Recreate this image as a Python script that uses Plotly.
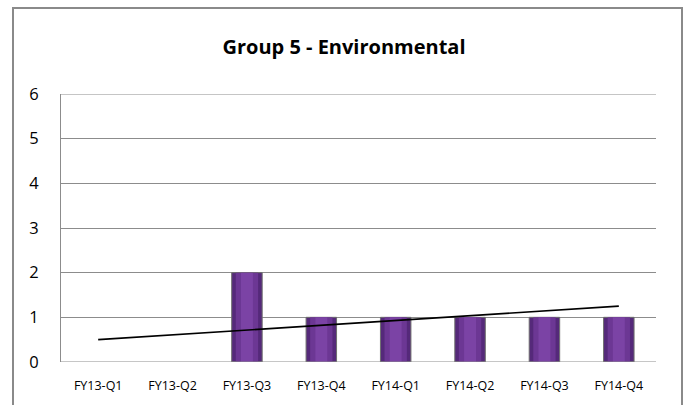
import numpy as np
import plotly.graph_objects as go

quarters = ["FY13-Q1", "FY13-Q2", "FY13-Q3", "FY13-Q4",
            "FY14-Q1", "FY14-Q2", "FY14-Q3", "FY14-Q4"]
counts = [0, 0, 2, 1, 1, 1, 1, 1]
y_ticks = [0, 1, 2, 3, 4, 5, 6]
title_text = "Group 5 - Environmental"

# Linear trendline fitted over the quarter index
idx = np.arange(1, len(counts) + 1)
slope, intercept = np.polyfit(idx, counts, 1)
trend = slope * idx + intercept

# no outline on empty quarters
outline_w = [1 if v > 0 else 0 for v in counts]

fig = go.Figure()

# Bars drawn as layered columns to give a rounded, shaded look
fig.add_trace(go.Bar(
    x=quarters, y=counts, width=0.41,
    marker=dict(color="#55297a", line=dict(color="#6e6e6e", width=outline_w)),
    hoverinfo="skip", showlegend=False,
))
fig.add_trace(go.Bar(
    x=quarters, y=counts, width=0.30,
    marker=dict(color="#6c3794", line=dict(width=0)),
    hoverinfo="skip", showlegend=False,
))
fig.add_trace(go.Bar(
    x=quarters, y=counts, width=0.16,
    marker=dict(color="#7b43a5", line=dict(width=0)),
    hoverinfo="skip", showlegend=False,
))

fig.add_trace(go.Scatter(
    x=quarters, y=trend, mode="lines",
    line=dict(color="black", width=1.6),
    hoverinfo="skip", showlegend=False,
))

fig.update_layout(
    width=688, height=405,
    margin=dict(l=61, r=32, t=94, b=43),
    paper_bgcolor="white", plot_bgcolor="white",
    barmode="overlay",
    font=dict(family="Open Sans, Calibri, sans-serif", color="black"),
    title=dict(text="<b>" + title_text + "</b>", x=0.5, xanchor="center",
               y=1 - 47 / 405, yanchor="middle",
               font=dict(size=20, family="Open Sans, sans-serif", color="black")),
    xaxis=dict(
        type="category", showgrid=False, zeroline=False,
        showline=False, ticks="", tickfont=dict(size=12.5),
        ticklabelstandoff=14,
    ),
    yaxis=dict(
        range=[0, 6], tickvals=y_ticks, showgrid=True,
        gridcolor="#8c8c8c", gridwidth=1, zeroline=False,
        showline=True, linecolor="#8c8c8c", linewidth=1,
        ticks="", tickfont=dict(size=16.5), ticklabelstandoff=18,
    ),
    shapes=[
        # baseline at zero and top gridline
        dict(type="line", xref="paper", yref="y", x0=0, x1=1, y0=0, y1=0,
             line=dict(color="#8c8c8c", width=1), layer="above"),
        dict(type="line", xref="paper", yref="y", x0=0, x1=1, y0=6, y1=6,
             line=dict(color="#8c8c8c", width=1), layer="above"),
        # chart-area border
        dict(type="rect", xref="paper", yref="paper",
             x0=(13 - 61) / 595, x1=(682 - 61) / 595,
             y0=-0.3, y1=(362 - 8) / 268,
             line=dict(color="#8a8a8a", width=2), fillcolor="rgba(0,0,0,0)"),
    ],
)

fig.write_html("out.html")
